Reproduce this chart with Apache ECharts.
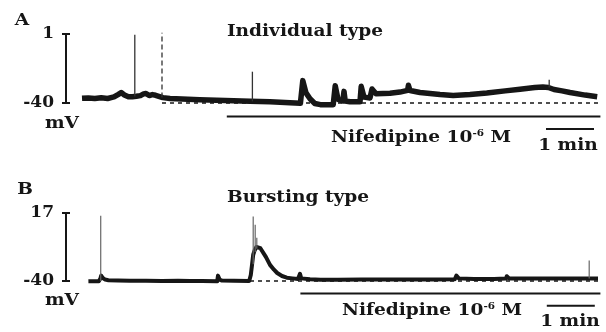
<!DOCTYPE html>
<html>
<head>
<meta charset="utf-8">
<script src="https://cdn.jsdelivr.net/npm/echarts@6/dist/echarts.min.js"></script>
<style>
  html, body { margin: 0; padding: 0; background: #fff; }
  #chart { width: 606px; height: 332px; }
</style>
</head>
<body>
<div id="chart"></div>
<script>
// time in seconds, potential in mV
const traceA = [
  [0, -37.2], [8, -37.0], [16, -37.3], [24, -36.9], [32, -37.3], [40, -36.4], [45, -35.0],
  [49, -33.8], [53, -35.2], [58, -36.3], [63, -36.3], [68, -36.0], [73, -35.6], [77, -34.6],
  [80, -34.3], [84, -35.6], [88, -35.0], [92, -35.4], [96, -36.0], [101, -36.8], [110, -37.3],
  [125, -37.6], [147, -38.0], [179, -38.5], [210, -39.0], [235, -39.3], [260, -39.8],
  [273, -40.2], [275, -39.8], [276, -26.7], [280, -34.0], [285, -37.5], [291, -40.3],
  [298, -41.0], [314, -41.0], [315.5, -40.0], [316.5, -29.7], [320, -37.8], [326, -38.8],
  [327.5, -33.1], [329, -38.8], [335, -39.3], [347.5, -39.3], [349, -30.1], [352.5, -36.5],
  [360, -37.0], [361.5, -37.0], [362.5, -31.7], [367.5, -34.5], [385, -34.2], [397.5, -33.5],
  [407, -32.5], [408, -29.5], [410, -32.6], [422.5, -33.8], [447.5, -35.0], [464, -35.5],
  [485, -35.0], [506, -34.1], [529, -32.8], [547.5, -31.8], [566, -30.8], [576, -30.5],
  [583, -30.8], [590, -32.0], [600, -32.8], [610, -33.8], [629, -35.3], [644, -36.3]
];
// [time, base, peak]
const spikesA = [[66, -36.2, 0.6], [213, -39.0, -21.4], [584, -30.8, -26.2]];
const dashedSpikesA = [[100, -36.8, 1.8]];

const traceB = [
  [8, -40.3], [15, -40.2], [21, -40.3], [23, -38.0], [24, -35.5], [26, -37.5], [29, -38.8],
  [33, -39.3], [45, -39.6], [60, -39.8], [80, -39.7], [100, -39.9], [120, -39.8], [135, -40.0],
  [150, -40.1], [169, -40.3], [170, -35.5], [172, -38.8], [175, -39.6], [190, -39.8],
  [209, -40.0], [211, -35.0], [212.5, -26.5], [214, -18.0], [216, -14.0], [218, -11.5],
  [220, -11.4], [223, -12.5], [225, -14.0], [230, -20.0], [235, -26.5], [240, -30.5],
  [244, -33.3], [250, -35.8], [256, -37.2], [263, -37.8], [270, -38.3], [272, -37.5],
  [272.5, -34.0], [274, -37.8], [285, -38.6], [298, -39.0], [320, -38.9], [350, -38.8],
  [380, -38.8], [410, -38.7], [440, -38.8], [466, -38.6], [468, -35.5], [471, -37.8],
  [490, -38.3], [515, -38.4], [530, -38.0], [531, -36.0], [534, -37.8], [560, -38.0],
  [590, -38.0], [620, -38.0], [633, -38.0], [645, -38.0]
];
const spikesB = [[23.4, -40, 14.7], [214, -26, 14.1], [216.5, -16, 7.1], [218.5, -13, -3.8], [634, -38, -22.9]];

// baseline (dashed), drug application bar, 1 min scale bar: [start, end, level]
const restA = [100, 650, -40];
const drugA = [181, 648, -48.0];
const minuteA = [580, 640, -55.4];
const restB = [210, 650, -40];
const drugB = [273, 648, -50.5];
const minuteB = [581, 641, -60.8];

const scaleA = [-40, 1];
const scaleB = [-40, 17];

const FONT = '"DejaVu Serif", "Liberation Serif", serif';
const INK = '#161616';
const STRETCH = 1.16;

function seg(s) {
  return [[s[0], s[2]], [s[1], s[2]]];
}

function spikeSeries(list, yAxisIndex, color, width, type) {
  return list.map(s => ({
    type: 'line',
    xAxisIndex: yAxisIndex === 0 ? 0 : 1,
    yAxisIndex: yAxisIndex,
    data: [[s[0], s[1]], [s[0], s[2]]],
    symbol: 'none',
    clip: false,
    silent: true,
    lineStyle: { color: color, width: width, type: type || 'solid' },
    z: 3
  }))
}

function lineSeries(data, yAxisIndex, width, extra) {
  return Object.assign({
    type: 'line',
    xAxisIndex: yAxisIndex === 0 ? 0 : 1,
    yAxisIndex: yAxisIndex,
    data: data,
    symbol: 'none',
    clip: false,
    silent: true,
    lineStyle: { color: INK, width: width, join: 'round' },
    z: 2
  }, extra || {})
}

// the y axis is the vertical scale bar, ticks on both sides
function scaleAxes(gridIndex, range) {
  const base = {
    type: 'value',
    gridIndex: gridIndex,
    position: 'left',
    min: range[0],
    max: range[1],
    interval: range[1] - range[0],
    splitLine: { show: false }
  }
  return [
    Object.assign({}, base, {
      axisLine: { show: true, onZero: false, lineStyle: { color: INK, width: 2 } },
      axisTick: { show: true, length: 4, lineStyle: { color: INK, width: 2 } },
      axisLabel: { show: true, margin: 12, color: INK, fontFamily: FONT, fontWeight: 'bold', fontSize: 17 }
    }),
    Object.assign({}, base, {
      axisLine: { show: false, onZero: false },
      axisTick: { show: true, inside: true, length: 4, lineStyle: { color: INK, width: 2 } },
      axisLabel: { show: false }
    })
  ]
}

function text(x, y, str, size) {
  return {
    type: 'text', x: x, y: y, scaleX: STRETCH, silent: true,
    style: {
      text: str, fill: INK, align: 'center', verticalAlign: 'middle',
      font: 'bold ' + size + 'px ' + FONT
    }
  }
}

function drugText(x, y) {
  return {
    type: 'text', x: x, y: y, scaleX: STRETCH, silent: true,
    style: {
      text: '{m|Nifedipine 10}{s|-6}{m| M}',
      align: 'center', verticalAlign: 'middle', fill: INK,
      rich: {
        m: { fontFamily: FONT, fontWeight: 'bold', fontSize: 16, lineHeight: 18, fill: INK },
        s: { fontFamily: FONT, fontWeight: 'bold', fontSize: 9, lineHeight: 18, verticalAlign: 'top', fill: INK }
      }
    }
  }
}

const chart = echarts.init(document.getElementById('chart'));

const option = {
  backgroundColor: '#fff',
  animation: false,
  grid: [
    { left: 66, top: 34, width: 536, height: 69 },
    { left: 66, top: 213, width: 536, height: 68 }
  ],
  xAxis: [
    { type: 'value', gridIndex: 0, min: -20, max: 650, show: false },
    { type: 'value', gridIndex: 1, min: -20, max: 650, show: false }
  ],
  yAxis: scaleAxes(0, scaleA).concat(scaleAxes(1, scaleB)),
  series: [
    lineSeries(seg(restA), 0, 1.5, { lineStyle: { color: INK, width: 1.5, type: [4, 4] }, z: 1 }),
    lineSeries(traceA, 0, 5.5),
    ...spikeSeries(spikesA, 0, '#333', 1.3),
    ...spikeSeries(dashedSpikesA, 0, '#333', 1.3, [5, 3]),
    lineSeries(seg(drugA), 0, 2),
    lineSeries(seg(minuteA), 0, 2),

    lineSeries(seg(restB), 2, 1.5, { lineStyle: { color: INK, width: 1.5, type: [4, 4] }, z: 1 }),
    lineSeries(traceB, 2, 4),
    ...spikeSeries(spikesB, 2, '#666', 1.2),
    lineSeries(seg(drugB), 2, 2),
    lineSeries(seg(minuteB), 2, 2)
  ],
  graphic: [
    text(22, 21, 'A', 16),
    text(305, 32, 'Individual type', 16),
    text(62, 124, 'mV', 16),
    drugText(421, 138),
    text(568, 146, '1 min', 16),
    text(25, 190, 'B', 16),
    text(298, 198, 'Bursting type', 16),
    text(62, 301, 'mV', 16),
    drugText(432, 311),
    text(570, 322, '1 min', 16)
  ]
};

chart.setOption(option);
window.addEventListener('resize', () => chart.resize());
</script>
</body>
</html>
